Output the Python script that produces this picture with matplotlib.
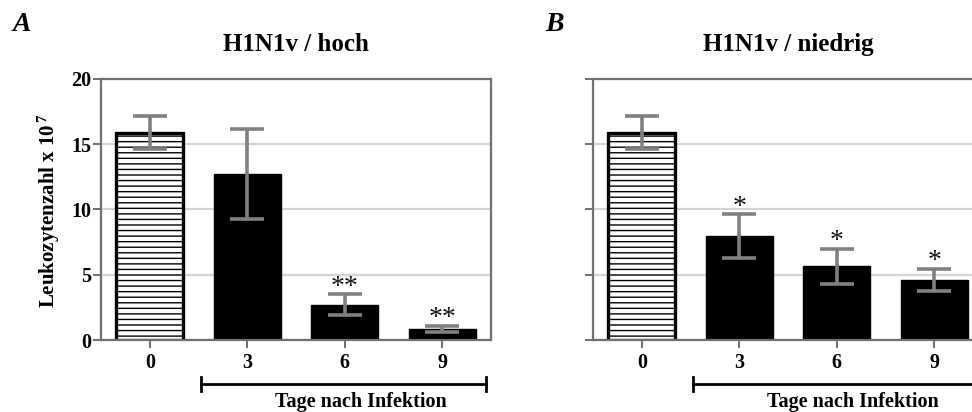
import matplotlib
matplotlib.use("Agg")
import matplotlib.pyplot as plt
import matplotlib.transforms as mtransforms

plt.rcParams['font.family'] = ['Liberation Serif', 'DejaVu Serif']
plt.rcParams['font.weight'] = 'bold'
plt.rcParams['mathtext.default'] = 'regular'
plt.rcParams['hatch.linewidth'] = 1.0

# Days after infection
days = ["0", "3", "6", "9"]

# Leukocyte counts (x 10^7), mean and error
hoch_mean = [15.9, 12.7, 2.7, 0.85]
hoch_err = [1.3, 3.45, 0.8, 0.22]
hoch_marks = ["", "", "**", "**"]

niedrig_mean = [15.9, 7.95, 5.65, 4.6]
niedrig_err = [1.3, 1.67, 1.36, 0.83]
niedrig_marks = ["", "*", "*", "*"]

titles = ["H1N1v / hoch", "H1N1v / niedrig"]
panel_letters = ["A", "B"]
bracket_label = "Tage nach Infektion"
ylabel = "Leukozytenzahl x 10$^{\\,7}$"

W, H = 972, 412
fig = plt.figure(figsize=(W / 100, H / 100), dpi=100)

spine_col = "#707070"
grid_col = "#d4d4d4"
err_col = "#808080"


def px(x, y, w, h):
    return [x / W, 1 - (y + h) / H, w / W, h / H]


def draw_panel(ax, means, errs, marks, title, letter, letter_x):
    xs = list(range(len(days)))
    ax.set_xlim(-0.5, 3.5)
    ax.set_ylim(0, 20)
    ax.set_yticks([0, 5, 10, 15, 20])
    ax.yaxis.grid(True, color=grid_col, linewidth=1.6, zorder=0)
    ax.set_axisbelow(True)

    ax.bar(xs[0], means[0], width=0.69, facecolor="white", edgecolor="black",
           linewidth=2.4, hatch="---", zorder=2)
    ax.bar(xs[1:], means[1:], width=0.69, color="black", edgecolor="black",
           linewidth=1.0, zorder=2)
    ax.errorbar(xs, means, yerr=errs, fmt="none", ecolor=err_col,
                elinewidth=2.6, capsize=12, capthick=2.6, zorder=3)

    for x, m, e, s in zip(xs, means, errs, marks):
        if s:
            ax.annotate(s, (x, m + e), xytext=(0, 0.5), textcoords="offset points",
                        ha="center", va="baseline", fontsize=20,
                        fontweight="normal", color="#111111", zorder=4)

    ax.set_xticks(xs)
    ax.set_xticklabels(days)
    for s in ax.spines.values():
        s.set_color(spine_col)
        s.set_linewidth(1.6)
    ax.tick_params(axis="x", length=6, width=1.4, color=spine_col, pad=3,
                   labelsize=14.5)
    ax.tick_params(axis="y", length=5.5, width=1.4, color=spine_col, pad=1.2,
                   labelsize=14.5)

    # title centered over the plot frame
    bb = ax.get_position()
    fig.text(bb.x0 + bb.width / 2, 1 - 50.7 / H, title, ha="center",
             va="baseline", fontsize=18, fontweight="bold")
    fig.text(letter_x / W, 1 - 31 / H, letter, ha="left", va="baseline",
             fontsize=20, fontweight="bold", fontstyle="italic")

    # bracket under the infected groups
    tr = mtransforms.blended_transform_factory(ax.transData, fig.transFigure)
    yl = 1 - 384 / H
    x0, x1 = 0.53, 3.45
    ax.plot([x0, x1], [yl, yl], color="black", lw=2.0, transform=tr,
            clip_on=False)
    for xe in (x0, x1):
        ax.plot([xe, xe], [1 - 377 / H, 1 - 391 / H], color="black", lw=2.0,
                transform=tr, clip_on=False)
    ax.text(2.17, 1 - 402 / H, bracket_label, transform=tr, ha="center",
            va="center", fontsize=14.5, fontweight="bold")


axA = fig.add_axes(px(101, 79, 390, 261))
axB = fig.add_axes(px(593, 79, 390, 261))

draw_panel(axA, hoch_mean, hoch_err, hoch_marks, titles[0], panel_letters[0], 12)
draw_panel(axB, niedrig_mean, niedrig_err, niedrig_marks, titles[1],
           panel_letters[1], 545)
axB.set_yticklabels([])

fig.text(48.5 / W, 1 - 211 / H, ylabel, rotation=90, ha="center", va="center",
         fontsize=15, fontweight="bold")

fig.savefig("out.png", dpi=100)
